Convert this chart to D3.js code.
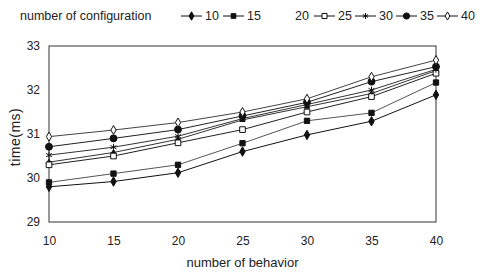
<!DOCTYPE html>
<html>
<head>
<meta charset="utf-8">
<script src="https://cdn.jsdelivr.net/npm/d3@7"></script>
<style>
body { margin: 0; background: #fff; }
text { font-family: "Liberation Sans", Arial, sans-serif; fill: #222; }
</style>
</head>
<body>
<script>
// data
var behaviors = [10, 15, 20, 25, 30, 35, 40];
var configLabels = ["10", "15", "20", "25", "30", "35", "40"];
var s10 = [29.8, 29.92, 30.12, 30.6, 30.98, 31.29, 31.89];
var s15 = [29.9, 30.1, 30.3, 30.79, 31.3, 31.48, 32.17];
var s20 = [30.36, 30.58, 30.88, 31.32, 31.62, 31.92, 32.44];
var s25 = [30.3, 30.5, 30.8, 31.1, 31.5, 31.85, 32.38];
var s30 = [30.52, 30.7, 30.95, 31.35, 31.67, 32.0, 32.47];
var s35 = [30.71, 30.9, 31.1, 31.41, 31.72, 32.19, 32.53];
var s40 = [30.94, 31.09, 31.26, 31.5, 31.8, 32.3, 32.68];
var yTicks = [29, 30, 31, 32, 33];

var seriesValues = [s10, s15, s20, s25, s30, s35, s40];
// marker style per series
var markers = [
  {type: d3.symbolDiamond, size: 26, fill: "#111"},
  {type: d3.symbolSquare, size: 28, fill: "#111"},
  {type: d3.symbolTriangle, size: 12, fill: "#111"},
  {type: d3.symbolSquare, size: 32, fill: "#fff"},
  {type: d3.symbolAsterisk, size: 32, fill: "none"},
  {type: d3.symbolCircle, size: 38, fill: "#111"},
  {type: d3.symbolDiamond, size: 24, fill: "#fff"}
];
var lineColors = ["#111", "#555", "#333", "#222", "#333", "#222", "#444"];

var svgWidth = 487;
var svgHeight = 273;
var margin = {top: 46, right: 51, bottom: 51, left: 49};
var width = svgWidth - margin.left - margin.right;
var height = svgHeight - margin.top - margin.bottom;

var svg = d3.select("body")
  .append("svg")
  .attr("width", svgWidth)
  .attr("height", svgHeight);

var chartGroup = svg.append("g")
  .attr("transform", `translate(${margin.left}, ${margin.top})`);

var xscale = d3.scaleLinear().domain([10, 40]).range([0, width]);
var yscale = d3.scaleLinear().domain([29, 33]).range([height, 0]);

// frame
chartGroup.append("rect")
  .attr("width", width)
  .attr("height", height)
  .attr("fill", "none")
  .attr("stroke", "#333")
  .attr("stroke-width", 1);

var bottomAxis = d3.axisBottom(xscale).tickValues(behaviors).tickSize(0).tickPadding(14);
var leftAxis = d3.axisLeft(yscale).tickValues(yTicks).tickFormat(d3.format("d")).tickSize(0).tickPadding(9);

var xg = chartGroup.append("g")
  .attr("transform", `translate(0, ${height})`)
  .call(bottomAxis);
var yg = chartGroup.append("g").call(leftAxis);
[xg, yg].forEach(function(g) {
  g.select(".domain").remove();
  g.selectAll("text").style("font-size", "12px").attr("fill", "#222");
});

var line = d3.line()
  .x(function(d, i) { return xscale(behaviors[i]); })
  .y(function(d) { return yscale(d); });

seriesValues.forEach(function(vals, k) {
  chartGroup.append("path")
    .datum(vals)
    .attr("d", line)
    .attr("fill", "none")
    .attr("stroke", lineColors[k])
    .attr("stroke-width", 1);

  chartGroup.selectAll(".m" + k)
    .data(vals)
    .enter()
    .append("path")
    .attr("class", "m" + k)
    .attr("transform", function(d, i) { return `translate(${xscale(behaviors[i])}, ${yscale(d)})`; })
    .attr("d", d3.symbol().type(markers[k].type).size(markers[k].size))
    .attr("fill", markers[k].fill)
    .attr("stroke", "#111")
    .attr("stroke-width", 1);
});

// axis titles
svg.append("text")
  .attr("transform", "translate(20, 137) rotate(-90)")
  .style("text-anchor", "middle")
  .style("font-size", "14px")
  .style("letter-spacing", "0.5px")
  .text("time(ms)");

svg.append("text")
  .attr("x", margin.left + width / 2)
  .attr("y", 267)
  .style("text-anchor", "middle")
  .style("font-size", "13px")
  .text("number of behavior");

// legend
var legend = svg.append("g");
legend.append("text")
  .attr("x", 20)
  .attr("y", 20)
  .style("font-size", "12.5px")
  .text("number of configuration");

var legendX = [181, 223, 271, 314, 355, 396, 437];
configLabels.forEach(function(lab, k) {
  var x0 = legendX[k];
  if (k !== 2) {
    legend.append("line")
      .attr("x1", x0).attr("x2", x0 + 21)
      .attr("y1", 16).attr("y2", 16)
      .attr("stroke", "#111");
    legend.append("path")
      .attr("transform", `translate(${x0 + 10.5}, 16)`)
      .attr("d", d3.symbol().type(markers[k].type).size(markers[k].size * 0.8))
      .attr("fill", markers[k].fill)
      .attr("stroke", "#111");
  }
  legend.append("text")
    .attr("x", x0 + 24)
    .attr("y", 20)
    .style("font-size", "12.5px")
    .text(lab);
});
</script>
</body>
</html>
